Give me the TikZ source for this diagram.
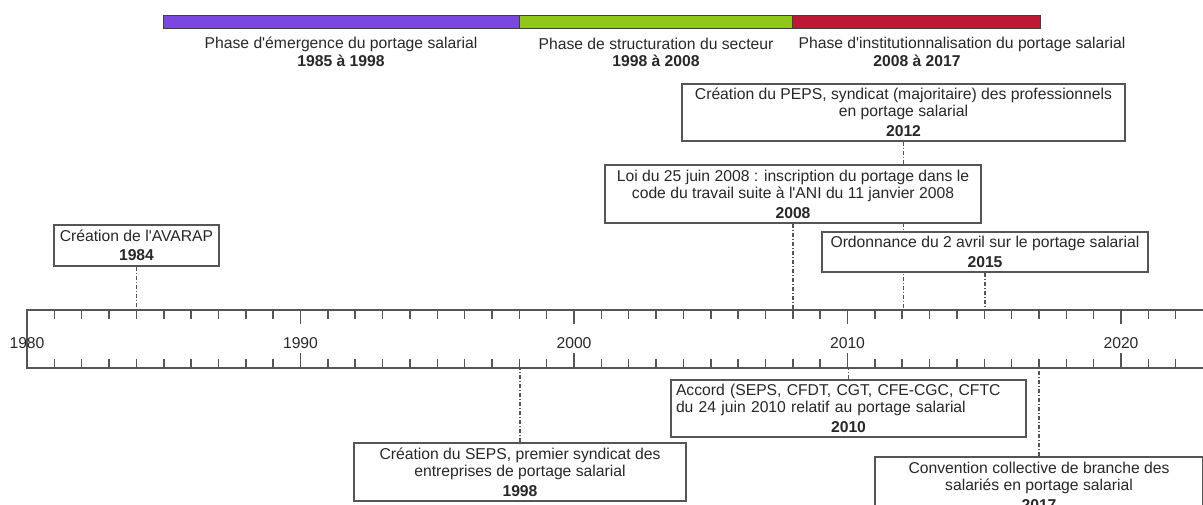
\documentclass[tikz,border=0pt]{standalone}
\usepackage{fontspec}
\setmainfont{Liberation Sans}[Ligatures=TeXOff]
\pgfdeclarelayer{bg}
\pgfsetlayers{bg,main}
\definecolor{phA}{RGB}{122,72,224}
\definecolor{phB}{RGB}{144,200,26}
\definecolor{phC}{RGB}{190,24,52}
\definecolor{ink}{RGB}{40,40,40}
\definecolor{framec}{RGB}{85,85,85}
\tikzset{
  evbox/.style={draw=framec, line width=1.4pt, fill=white, text=ink, inner sep=0pt, align=center,
    font=\fontsize{15.7}{17}\selectfont},
  link/.style={draw=framec, line width=1.3pt, dash pattern=on 4pt off 2pt on 1pt off 2pt},
  axisline/.style={draw=framec, line width=1.5pt},
  lbl/.style={text=ink, font=\fontsize{15.7}{17}\selectfont, inner sep=0pt},
  phasebar/.style={draw=black!75, line width=1pt}
}
\begin{document}
\begin{tikzpicture}[x=1pt,y=-1pt]
\useasboundingbox (0,0) rectangle (1203,504);
% phase bars
\filldraw[phasebar, fill=phA] (163.5,15) rectangle (519.3,28);
\filldraw[phasebar, fill=phB] (519.3,15) rectangle (792.8,28);
\filldraw[phasebar, fill=phC] (792.8,15) rectangle (1040.5,28);
\node[lbl] (phA1) at (341,44) {Phase d'émergence du portage salarial};
\node[lbl, font=\fontsize{15.7}{17}\selectfont\bfseries] (phA2) at (341,61) {1985 à 1998};
\node[lbl] (phB1) at (656,44) {Phase de structuration du secteur};
\node[lbl, font=\fontsize{15.7}{17}\selectfont\bfseries] (phB2) at (656,61) {1998 à 2008};
\node[lbl] (phC1) at (962,44) {Phase d'institutionnalisation du portage salarial};
\node[lbl, font=\fontsize{15.7}{17}\selectfont\bfseries] (phC2) at (917,61) {2008 à 2017};
% axis
\draw[axisline] (1210,310) -- (27,310) -- (27,368) -- (1210,368);
\foreach \yr in {1981,...,2022}{
  \pgfmathsetmacro\xx{27+27.35*(\yr-1980)}
  \pgfmathtruncatemacro\mm{mod(\yr,10)}
  \ifnum\mm=0
    \draw[axisline] (\xx,310) -- (\xx,324);
    \draw[axisline] (\xx,368) -- (\xx,353);
  \else
    \draw[axisline] (\xx,310) -- (\xx,319);
    \draw[axisline] (\xx,368) -- (\xx,359);
  \fi
}
\node[lbl] (y1980) at (27,343) {1980};
\node[lbl] (y1990) at (300.5,343) {1990};
\node[lbl] (y2000) at (574,343) {2000};
\node[lbl] (y2010) at (847.5,343) {2010};
\node[lbl] (y2020) at (1121,343) {2020};
\coordinate (axtop) at (27,310);
\coordinate (axbot) at (27,368);
% event boxes above
\node[evbox, minimum width=165pt, minimum height=41pt] (avarap) at (136.5,245.5)
  {Création de l'AVARAP\\[2pt]\textbf{1984}};
\node[evbox, minimum width=443pt, minimum height=57pt] (peps) at (903.5,112.5)
  {Création du PEPS, syndicat (majoritaire) des professionnels\\ en portage salarial\\[3pt]\textbf{2012}};
\node[evbox, minimum width=376pt, minimum height=58pt] (loi) at (793,194)
  {Loi du 25 juin 2008 : inscription du portage dans le\\ code du travail suite à l'ANI du 11 janvier 2008\\[3pt]\textbf{2008}};
\node[evbox, minimum width=326pt, minimum height=40pt] (ordo) at (985,252)
  {Ordonnance du 2 avril sur le portage salarial\\[3pt]\textbf{2015}};
% event boxes below
\node[evbox, align=left, text width=345pt, inner xsep=5pt, minimum height=57pt] (accord) at (848.5,408.5)
  {Accord (SEPS, CFDT, CGT, CFE-CGC, CFTC\\ du 24 juin 2010 relatif au portage salarial\\[3pt]\makebox[\linewidth]{\textbf{2010}}};
\node[evbox, minimum width=332pt, minimum height=58pt] (seps) at (520,472)
  {Création du SEPS, premier syndicat des\\ entreprises de portage salarial\\[3pt]\textbf{1998}};
\node[evbox, minimum width=328pt, minimum height=58pt] (conv) at (1039,486)
  {Convention collective de branche des\\ salariés en portage salarial\\[3pt]\textbf{2017}};
% connectors
\begin{pgfonlayer}{bg}
\draw[link] (avarap.south) -- (avarap.south |- axtop);
\draw[link] (loi.south) -- (loi.south |- axtop);
\draw[link] (peps.south) -- (peps.south |- axtop);
\draw[link] (ordo.south) -- (ordo.south |- axtop);
\draw[link] (seps.north) -- (seps.north |- axbot);
\draw[link] (accord.north) -- (accord.north |- axbot);
\draw[link] (conv.north) -- (conv.north |- axbot);
\end{pgfonlayer}
\end{tikzpicture}
\end{document}
